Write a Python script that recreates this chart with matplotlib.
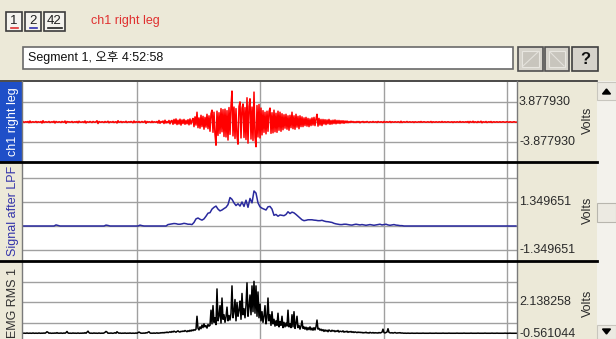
import numpy as np
import matplotlib
matplotlib.use('Agg')
import matplotlib.pyplot as plt
from matplotlib.patches import Rectangle, Polygon

plt.rcParams['font.family'] = ['Liberation Sans', 'Noto Sans CJK KR', 'DejaVu Sans']

#-----------------------------------
# Values, in volts.
# ch1 right leg (raw EMG), one sample per pixel column
red_values = [
    0.0, 0.1, -0.1, 0.0, 0.05, -0.05, 0.1, -0.15, 0.2, -0.1,
    0.0, 0.05, -0.05, 0.0, 0.1, -0.1, 0.05, 0.0, -0.05, 0.1,
    -0.2, 0.25, -0.1, 0.0, 0.05, -0.05, 0.0, 0.1, -0.1, 0.0,
    0.05, -0.05, 0.15, -0.2, 0.1, 0.0, -0.05, 0.05, 0.0, -0.1,
    0.1, 0.0, -0.05, 0.2, -0.25, 0.1, 0.0, 0.05, -0.05, 0.0,
    0.1, -0.1, 0.0, 0.05, -0.05, 0.1, -0.15, 0.15, 0.0, -0.05,
    0.0, 0.05, -0.1, 0.2, -0.2, 0.05, 0.0, -0.05, 0.1, 0.0,
    -0.1, 0.1, 0.0, -0.05, 0.05, 0.25, -0.3, 0.1, 0.0, -0.05,
    0.05, 0.0, -0.1, 0.1, -0.05, 0.0, 0.15, -0.15, 0.05, 0.0,
    -0.05, 0.1, -0.1, 0.0, 0.05, -0.2, 0.25, -0.05, 0.0, 0.1,
    -0.1, 0.05, 0.0, -0.05, 0.15, -0.1, 0.0, 0.05, -0.05, 0.1,
    0.0, -0.15, 0.2, -0.1, 0.05, 0.0, -0.05, 0.1, -0.1, 0.0,
    0.1, -0.05, 0.0, 0.2, -0.25, 0.1, -0.05, 0.05, 0.0, -0.1,
    0.15, -0.1, 0.05, 0.0, -0.05, 0.1, -0.2, 0.3, -0.25, 0.1,
    -0.05, 0.2, -0.3, 0.35, -0.2, 0.1, -0.15, 0.3, -0.35, 0.2,
    0.3, -0.45, 0.5, -0.3, 0.6, -0.5, 0.35, -0.4, 0.55, -0.6,
    0.4, -0.3, 0.5, -0.45, 0.3, -0.35, 0.45, -0.55, 0.6, -0.4, 0.3,
    0.7, -0.9, 1.0, -0.6, 1.9, -1.1, 0.8, -1.2, 1.3, -0.9,
    1.1, -1.4, 0.9, -1.0, 1.5, -1.3, 1.2,
    -1.8, 1.6, 2.3, -2.0, 1.9, -2.4, -4.5, 2.1, -2.6, 1.8,
    -2.2, 2.6, -1.9, 2.4, -2.8,
    2.5, -2.9, 2.2, -3.5, 2.8, -2.4, 3.1, 6.0, -2.7, 2.9,
    -3.2, 2.6, -2.8, -4.3, 3.0, 3.9, -3.1, 2.7, 3.5, -3.0,
    2.8, -3.4, 4.7, -4.1, 3.0, 4.5, -3.3, 2.9, -3.6, 5.8,
    -3.0, -4.8, 3.2, -2.9, 3.4, -3.1, 2.7, -2.5,
    2.2, -2.0, 1.9, -2.3, 2.1, -1.8, 2.0, 2.7, -2.2, 1.8,
    -2.1, 2.3, -1.9, 1.7, -2.0, 2.1, -1.6, 1.9, -1.8, 1.6,
    -1.5, 1.4, -1.2, 1.5, -1.4, 1.2, -1.6, 1.3, -1.1, 1.9,
    -1.3, 1.2, -1.4, 1.5, -1.0, 1.1, -1.3, 1.2, -0.9, 1.0,
    -0.9, 0.8, -0.7, 0.9, -0.8, 0.7, -0.9, 0.6, -0.7, 0.8,
    -0.6, 0.9, -0.7, 0.6, 1.5, -0.8, 0.7, -0.6, 0.5, -0.7,
    0.5, -0.4, 0.45, -0.5, 0.4, -0.35, 0.5, -0.45, 0.3, -0.4,
    0.35, -0.3, 0.4, -0.35, 0.3, -0.25, 0.3, -0.3, 0.25, -0.2,
    0.25, -0.25, 0.2, -0.15, 0.2,
    -0.15, 0.1, -0.1, 0.15, -0.05, 0.1, -0.1, 0.05, -0.1, 0.1,
    -0.05, 0.1, -0.15, 0.05, 0.0, 0.1, -0.1, 0.05, -0.05, 0.1,
    0.0, -0.1, 0.05, 0.0, -0.05, 0.1, -0.05, 0.0, 0.05, -0.1,
    0.1, 0.0, -0.05, 0.05, 0.0, -0.1, 0.1, -0.05, 0.0, 0.05,
    -0.05, 0.0, 0.1, -0.1, 0.05, 0.0, -0.05, 0.05, 0.0, -0.05,
    0.05, 0.0, -0.1, 0.15, -0.1, 0.0, 0.05, -0.05, 0.0, 0.1,
    -0.05, 0.0, 0.05, -0.05, 0.0, 0.05, -0.1, 0.05, 0.0, -0.05,
    0.0, 0.05, -0.05, 0.1, -0.05, 0.0, 0.05, 0.0, -0.05, 0.0,
    0.05, -0.05, 0.0, 0.1, -0.1, 0.05, 0.0, -0.05, 0.05, 0.0,
    -0.05, 0.05, 0.0, -0.05, 0.1, -0.05, 0.0, 0.05, -0.05, 0.0,
    0.05, 0.0, -0.05, 0.0, 0.05, -0.1, 0.05, 0.0, -0.05, 0.05,
    0.0, -0.05, 0.1, -0.05, 0.0, 0.05, -0.05, 0.0, 0.05, -0.05,
    0.1, -0.15, 0.1, 0.0, -0.05, 0.15, -0.1, 0.05, 0.0, -0.1,
    0.1, -0.05, 0.0, 0.15, -0.15, 0.05, 0.0, -0.05, 0.1, -0.1,
    0.0, 0.05, -0.05, 0.1, -0.1, 0.0, 0.05, -0.05, 0.0, 0.05,
    -0.05, 0.0, 0.05, -0.05, 0.0, 0.05, 0.0, -0.05, 0.0, 0.05,
    0.0, -0.05, 0.05, 0.0, -0.05, 0.0, 0.05, 0.0, -0.05, 0.0,
]

# Signal after LPF, one sample every 2 pixel columns
lpf_values = [0.0] * 17 + [0.06, 0.03] + [0.0] * 23 + [0.05, 0.03] + [0.0] * 15 + [0.05, 0.02] + [0.0] * 12 + [
    0.08, 0.1, 0.12, 0.14, 0.13, 0.1, 0.1, 0.12, 0.15, 0.13,
    0.1, 0.1, 0.08, 0.2, 0.4, 0.45, 0.38, 0.33, 0.4, 0.55,
    0.72, 0.75, 0.95, 1.05, 1.12, 0.95, 0.85, 0.9, 0.98, 1.05,
    1.2, 1.6, 1.5, 1.3, 1.15, 1.25, 1.12, 1.35, 1.1, 1.45,
    1.05, 1.55, 1.3, 1.97, 1.85, 1.3, 1.08, 1.0, 0.95, 0.9,
    1.08, 1.1, 0.95, 0.6, 0.65, 0.55, 0.62, 0.6, 0.58, 0.65,
    0.8, 0.7, 0.78, 0.74, 0.65, 0.55, 0.45, 0.35, 0.3, 0.32,
    0.35, 0.35, 0.35, 0.33, 0.32, 0.3, 0.3, 0.32, 0.28, 0.25,
    0.24, 0.22, 0.2, 0.15, 0.12, 0.1, 0.08, 0.08, 0.1, 0.1,
    0.08, 0.06, 0.05, 0.08, 0.1, 0.08, 0.06, 0.08, 0.06, 0.04,
    0.06, 0.08, 0.06, 0.04, 0.06, 0.08, 0.1, 0.06, 0.08, 0.1,
    0.06, 0.04, 0.06, 0.08, 0.05, 0.04, 0.02, 0.02,
] + [0.0] * 57

# EMG RMS 1, one sample per pixel column
rms_values = [
    0.08, 0.08, 0.09, 0.08, 0.08, 0.1, 0.08, 0.08, 0.09, 0.08,
    0.08, 0.1, 0.08, 0.08, 0.09, 0.08, 0.08, 0.1, 0.08, 0.08,
    0.09, 0.08, 0.1, 0.08, 0.12, 0.18, 0.14, 0.08, 0.1, 0.08,
    0.08, 0.09, 0.08, 0.1, 0.08, 0.12, 0.08, 0.09, 0.08, 0.1,
    0.08, 0.08, 0.1, 0.08, 0.12, 0.2, 0.1, 0.08, 0.09, 0.08,
    0.08, 0.1, 0.08, 0.09, 0.08, 0.08, 0.1, 0.08, 0.08, 0.09,
    0.08, 0.1, 0.08, 0.12, 0.08, 0.15, 0.22, 0.12, 0.08, 0.09,
    0.08, 0.08, 0.1, 0.08, 0.09, 0.08, 0.08, 0.1, 0.08, 0.08,
    0.09, 0.08, 0.1, 0.14, 0.2, 0.16, 0.08, 0.09, 0.08, 0.1,
    0.08, 0.08, 0.09, 0.12, 0.08, 0.18, 0.12, 0.08, 0.1, 0.08,
    0.08, 0.09, 0.08, 0.1, 0.08, 0.08, 0.09, 0.08, 0.1, 0.08,
    0.08, 0.09, 0.08, 0.08, 0.1, 0.08, 0.12, 0.16, 0.12, 0.08,
    0.09, 0.08, 0.1, 0.08, 0.12, 0.1, 0.15, 0.18, 0.1, 0.08,
    0.09, 0.08, 0.1, 0.08, 0.09, 0.11, 0.08, 0.1, 0.09, 0.12,
    0.1, 0.13, 0.1, 0.14, 0.12, 0.16, 0.12, 0.15,
    0.18, 0.14, 0.2, 0.16, 0.22, 0.18, 0.15, 0.2, 0.24, 0.18,
    0.16, 0.21, 0.19, 0.23, 0.2, 0.26, 0.22, 0.18, 0.25, 0.2,
    0.28, 0.22, 0.3, 0.25, 0.32, 0.28,
    0.35, 1.2, 0.4, 0.3, 0.5, 0.38, 0.62, 0.45, 0.7, 0.5,
    0.58, 0.42, 0.66, 0.55,
    0.6, 1.6, 0.7, 1.9, 0.8, 1.1, 0.65, 3.0, 0.9, 1.2,
    1.9, 0.75, 2.4, 1.0, 1.3, 0.8, 1.15, 1.8, 0.9, 1.25,
    0.95, 1.4, 3.2, 1.1, 1.5, 2.3, 0.9, 2.1, 1.2, 1.6,
    2.2, 1.0, 2.7, 1.3, 1.7, 1.1, 1.9, 3.4, 1.2, 1.8,
    2.6, 1.3, 3.2, 1.5, 3.5, 1.4, 3.2, 1.2, 2.8, 1.1,
    2.0, 0.9, 1.5,
    0.8, 1.2, 1.9, 0.7, 1.1, 2.4, 0.9, 1.3, 0.6, 1.5,
    0.7, 1.0, 0.55, 0.9, 0.6, 1.4, 0.5, 0.85, 0.6, 1.2,
    0.45, 0.8, 0.5, 0.75, 0.55, 1.6, 0.5, 0.7,
    0.45, 1.3, 0.5, 1.5, 0.4, 0.7, 1.2, 0.45, 0.6, 0.35,
    0.55, 0.9, 0.4, 0.5, 0.35, 0.48, 0.3, 0.45, 0.32, 0.5,
    0.3, 0.42, 0.28, 0.45, 0.3, 0.5, 0.95, 0.35, 0.4, 0.28,
    0.35, 0.25, 0.32, 0.2, 0.3, 0.22, 0.28, 0.18, 0.3, 0.24,
    0.2, 0.28, 0.22, 0.26, 0.18, 0.24, 0.2, 0.27, 0.16, 0.22,
    0.2, 0.18, 0.24, 0.15, 0.2, 0.17, 0.22, 0.14, 0.19, 0.16,
    0.2, 0.14, 0.18, 0.13, 0.17, 0.15, 0.12, 0.16, 0.13, 0.15,
    0.12, 0.14, 0.1, 0.13, 0.11, 0.15, 0.1, 0.12, 0.09, 0.14,
    0.11, 0.1, 0.13, 0.09, 0.12, 0.1, 0.11, 0.09, 0.13, 0.1,
    0.12, 0.15, 0.35, 0.12, 0.1, 0.13, 0.16, 0.38, 0.14, 0.11,
    0.1, 0.12, 0.09, 0.11, 0.13, 0.1, 0.09, 0.11, 0.1, 0.12,
    0.09, 0.1, 0.09, 0.08, 0.09,
    0.08, 0.08, 0.09, 0.08, 0.08, 0.08, 0.09, 0.08, 0.08, 0.08,
    0.08, 0.09, 0.08, 0.08, 0.08, 0.08, 0.08, 0.09, 0.08, 0.08,
    0.08, 0.08, 0.08, 0.08, 0.09, 0.08, 0.08, 0.08, 0.08, 0.08,
    0.09, 0.08, 0.08, 0.08, 0.08, 0.08, 0.08, 0.09, 0.08, 0.08,
    0.08, 0.08, 0.08, 0.09, 0.08, 0.08, 0.08, 0.08, 0.08, 0.08,
    0.08, 0.09, 0.08, 0.08, 0.08, 0.08, 0.08, 0.08, 0.09, 0.08,
    0.08, 0.08, 0.08, 0.08, 0.08, 0.09, 0.08, 0.08, 0.08, 0.08,
    0.08, 0.08, 0.09, 0.08, 0.08, 0.08, 0.08, 0.08, 0.08, 0.09,
    0.08, 0.08, 0.08, 0.08, 0.08, 0.08, 0.09, 0.08, 0.08, 0.08,
    0.08, 0.09, 0.08, 0.08, 0.08, 0.08, 0.08, 0.08, 0.08, 0.09,
    0.08, 0.08, 0.08, 0.08, 0.09, 0.08, 0.08, 0.08, 0.08, 0.08,
    0.08, 0.08,
]

channel_names = ['ch1 right leg', 'Signal after LPF', 'EMG RMS 1']
channel_colors = ['#ff0000', '#2a2a9e', '#000000']
scale_top = ['3.877930', '1.349651', '2.138258']
scale_bottom = ['-3.877930', '-1.349651', '-0.561044']
time_grid = [1, 2, 3, 4]          # seconds
segment_label = 'Segment 1, 오후 4:52:58'
#------------------------------------

W, H = 616, 339
BG = '#ece9d8'
PX_PER_SEC = 123.5
T_START = 0.069
X_LEFT, X_RIGHT = 22, 517

fig = plt.figure(figsize=(W / 100, H / 100), dpi=100)
fig.patch.set_facecolor(BG)


def frac(x0, y0, x1, y1):
    # pixel box (top-left origin) -> figure fraction rect
    return [x0 / W, 1 - y1 / H, (x1 - x0) / W, (y1 - y0) / H]


t_end = T_START + (X_RIGHT - X_LEFT) / PX_PER_SEC
t_red = T_START + np.arange(len(red_values)) / PX_PER_SEC
t_lpf = T_START + np.arange(len(lpf_values)) * 2 / PX_PER_SEC
t_rms = T_START + np.arange(len(rms_values)) / PX_PER_SEC

# panel: (top px, bottom px, ref px, ref value, px per unit), grid values
r1, r2 = 3.877930, 1.349651
panels = [
    (82, 162, 122, 0.0, 20 / r1, [-r1, 0, r1]),
    (162, 261, 226, 0.0, 24 / r2, [-r2, 0, r2, 2 * r2]),
    (261, 339, 302, 2.138258, 20.5 / r2, [2.138258 - r2, 2.138258, 2.138258 + r2]),
]
series = [(t_red, red_values, 1.1), (t_lpf, lpf_values, 1.1), (t_rms, rms_values, 1.1)]

for (top, bot, ref_px, ref_val, ppu, grid), (tt, vals, lw), col in zip(panels, series, channel_colors):
    ax = fig.add_axes(frac(X_LEFT, top, X_RIGHT, bot))
    ax.set_facecolor('white')
    ax.plot(tt, vals, color=col, lw=lw, zorder=3)
    ax.set_xlim(T_START, t_end)
    ax.set_ylim(ref_val - (bot - ref_px) / ppu, ref_val + (ref_px - top) / ppu)
    ax.set_xticks(time_grid)
    ax.set_yticks(grid)
    ax.grid(True, color='#a0a0a0', lw=1.0)
    ax.tick_params(length=0, labelleft=False, labelbottom=False)
    for s in ax.spines.values():
        s.set_visible(False)

# UI overlay in pixel coordinates
ui = fig.add_axes([0, 0, 1, 1], zorder=10)
ui.set_xlim(0, W)
ui.set_ylim(H, 0)
ui.axis('off')
ui.patch.set_alpha(0)

# channel buttons at top
for (x0, x1), lab, ucol in zip([(6, 22), (25, 41), (44, 65)], ['1', '2', '42'],
                               ['#e03030', '#3030b0', '#202020']):
    ui.add_patch(Rectangle((x0, 12), x1 - x0, 19, facecolor='#f4f3ee', edgecolor='#3c3c3c', lw=1.2))
    xc = (x0 + x1) / 2
    ui.text(xc, 21, lab, fontsize=9.5, ha='center', va='center', color='#202020')
    half = 3.5 if len(lab) == 1 else 7
    ui.plot([xc - half, xc + half], [28, 28], color=ucol, lw=1.2)
ui.text(91, 21, channel_names[0], fontsize=9, color='#e03030', va='center')

# segment box and buttons
ui.add_patch(Rectangle((23, 47), 490, 22, facecolor='white', edgecolor='#6a6a6a', lw=1.2))
ui.text(28, 58, segment_label, fontsize=9, va='center', color='#101010')
for x0, x1 in [(518, 543), (545, 569)]:
    ui.add_patch(Rectangle((x0, 47), x1 - x0, 24, facecolor='#d6d3cb', edgecolor='#505050', lw=1.2))
    ui.add_patch(Rectangle((x0 + 4, 51), x1 - x0 - 8, 16, facecolor='#c8c5bd', edgecolor='#e8e6e0', lw=0.8))
ui.plot([523, 538], [66, 52], color='#e4e2dc', lw=0.8)
ui.plot([550, 564], [52, 66], color='#e4e2dc', lw=0.8)
ui.add_patch(Rectangle((572, 47), 26, 24, facecolor='#d6d3cb', edgecolor='#404040', lw=1.2))
ui.text(585, 59, '?', fontsize=12, fontweight='bold', ha='center', va='center', color='#101010')

# channel strips on the left
ui.add_patch(Rectangle((0, 82), 22, 80, facecolor='#1f4fc8', edgecolor='none'))
label_y = [122, 211, 303]
label_col = ['white', '#3333aa', '#303030']
for name, yc, lc in zip(channel_names, label_y, label_col):
    ui.text(13, yc, name, fontsize=9, rotation=90, ha='center', va='center', color=lc)

# borders
ui.plot([0, 597], [81, 81], color='#303030', lw=1.2)
ui.plot([X_LEFT, X_LEFT], [81, 339], color='#7a7a7a', lw=1.0)
ui.plot([X_RIGHT, X_RIGHT], [81, 339], color='#7a7a7a', lw=1.0)
for yy in [162, 261]:
    ui.plot([0, 597], [yy, yy], color='black', lw=2.0)

# scale labels on the right
scale_y = [(102, 142, 120), (202, 250, 210), (302, 334, 303)]
for (yt, yb, yv), st, sb in zip(scale_y, scale_top, scale_bottom):
    ui.text(519, yt, st, fontsize=9, va='center', color='#2a2a2a')
    ui.text(519, yb, sb, fontsize=9, va='center', color='#2a2a2a')
    ui.text(588, yv, 'Volts', fontsize=9, rotation=90, ha='center', va='center', color='#2a2a2a')

# scroll bar
ui.add_patch(Rectangle((597, 81), 19, 258, facecolor='#f3f2ec', edgecolor='none'))
ui.add_patch(Rectangle((597, 82), 19, 18, facecolor='#eceae2', edgecolor='#c8c6be', lw=0.8))
ui.add_patch(Polygon([[602.5, 94], [610.5, 94], [606.5, 89]], closed=True, color='black'))
ui.add_patch(Rectangle((597, 203), 19, 19, facecolor='#eceae2', edgecolor='#b8b6ae', lw=0.8))
ui.add_patch(Rectangle((597, 325), 19, 14, facecolor='#eceae2', edgecolor='#c8c6be', lw=0.8))
ui.add_patch(Polygon([[602.5, 329], [610.5, 329], [606.5, 334]], closed=True, color='black'))

fig.savefig('out.png', dpi=100, facecolor=fig.get_facecolor())
